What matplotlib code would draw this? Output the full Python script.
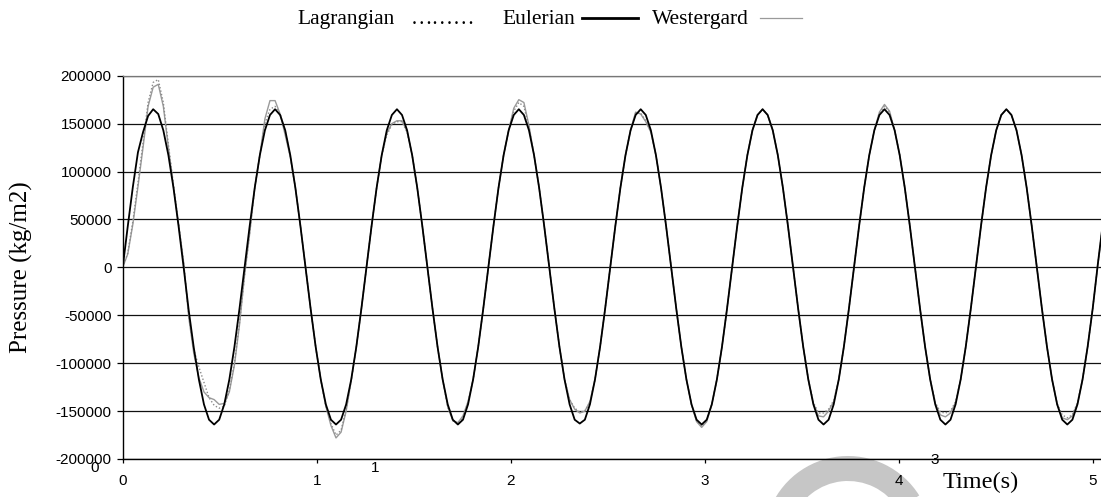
import numpy as np
import matplotlib
matplotlib.use("Agg")
from matplotlib import pyplot as plt
from matplotlib.lines import Line2D
from matplotlib.patches import Wedge

# pressure histories in 1000 kg/m2, sampled every dt seconds (24 samples per cycle, one cycle per row)
eulerian = [
    0, 43, 84, 120, 141, 158, 165, 160, 143, 117, 83, 43, 0, -45, -84, -117, -143, -159, -164, -159, -143, -117, -83, -43,
    0, 43, 83, 117, 143, 159, 165, 159, 143, 117, 83, 43, 0, -43, -83, -117, -143, -159, -164, -159, -143, -117, -83, -43,
    0, 43, 83, 117, 143, 159, 165, 159, 143, 117, 83, 43, 0, -43, -83, -117, -143, -159, -164, -159, -143, -117, -83, -43,
    0, 43, 83, 117, 143, 159, 165, 159, 143, 117, 83, 43, 0, -43, -83, -117, -143, -159, -163, -159, -143, -117, -83, -43,
    0, 43, 83, 117, 143, 159, 165, 159, 143, 117, 83, 43, 0, -43, -83, -117, -143, -159, -164, -159, -143, -117, -83, -43,
    0, 43, 83, 117, 143, 159, 165, 159, 143, 117, 83, 43, 0, -43, -83, -117, -143, -159, -164, -159, -143, -117, -83, -43,
    0, 43, 83, 117, 143, 159, 165, 159, 143, 117, 83, 43, 0, -43, -83, -117, -143, -159, -164, -159, -143, -117, -83, -43,
    0, 43, 83, 117, 143, 159, 165, 159, 143, 117, 83, 43, 0, -43, -83, -117, -143, -159, -164, -159, -143, -117, -83, -43,
    3, 46,
]

westergard = [
    0, 14, 45, 84, 125, 168, 188, 191, 168, 125, 84, 45, 5, -52, -90, -115, -130, -136, -138, -143, -142, -130, -102, -60,
    -8, 35, 83, 117, 155, 174, 174, 160, 138, 115, 83, 43, 0, -43, -83, -117, -145, -165, -178, -172, -150, -118, -83, -43,
    0, 43, 83, 117, 140, 150, 153, 153, 142, 117, 83, 43, 0, -43, -83, -117, -145, -160, -162, -155, -140, -117, -83, -43,
    0, 43, 83, 117, 143, 166, 175, 172, 148, 117, 83, 43, 0, -43, -83, -117, -138, -148, -152, -150, -140, -117, -83, -43,
    0, 43, 83, 117, 143, 162, 160, 152, 141, 117, 83, 43, 0, -43, -83, -117, -143, -161, -167, -161, -143, -117, -83, -43,
    0, 43, 83, 117, 143, 159, 165, 159, 143, 117, 83, 43, 0, -43, -83, -117, -142, -155, -156, -150, -140, -117, -83, -43,
    0, 43, 83, 117, 143, 162, 170, 163, 143, 117, 83, 43, 0, -43, -83, -117, -142, -154, -156, -152, -141, -117, -83, -43,
    0, 43, 83, 117, 143, 159, 165, 159, 143, 117, 83, 43, 0, -43, -83, -117, -143, -157, -159, -155, -142, -117, -83, -43,
    2, 44,
]

lagrangian = [
    0, 15, 48, 88, 130, 172, 193, 196, 172, 128, 86, 46, 5, -50, -86, -104, -120, -136, -144, -147, -145, -128, -100, -58,
    -8, 36, 83, 117, 150, 165, 168, 160, 142, 116, 83, 43, 0, -43, -83, -117, -145, -163, -175, -170, -148, -118, -83, -43,
    0, 43, 83, 117, 138, 149, 152, 152, 141, 117, 83, 43, 0, -43, -83, -117, -146, -160, -163, -157, -141, -117, -83, -43,
    0, 43, 83, 117, 143, 163, 172, 168, 146, 117, 83, 43, 0, -43, -83, -117, -138, -147, -151, -150, -141, -117, -83, -43,
    0, 43, 83, 117, 143, 161, 161, 153, 142, 117, 83, 43, 0, -43, -83, -117, -143, -160, -166, -160, -143, -117, -83, -43,
    0, 43, 83, 117, 143, 159, 165, 159, 143, 117, 83, 43, 0, -43, -83, -117, -141, -152, -152, -148, -139, -117, -83, -43,
    0, 43, 83, 117, 143, 161, 168, 162, 143, 117, 83, 43, 0, -43, -83, -117, -141, -151, -152, -150, -140, -117, -83, -43,
    0, 43, 83, 117, 143, 159, 165, 159, 143, 117, 83, 43, 0, -43, -83, -117, -142, -154, -157, -154, -141, -117, -83, -43,
    3, 45,
]

dt = 0.02617
xticks = [0, 1, 2, 3, 4, 5]
yticks = [-200000, -150000, -100000, -50000, 0, 50000, 100000, 150000, 200000]

time = np.arange(len(eulerian)) * dt
p_eul = np.array(eulerian) * 1000
p_wes = np.array(westergard) * 1000
p_lag = np.array(lagrangian) * 1000

W, H = 1101, 497
fig = plt.figure(figsize=(W / 100, H / 100), dpi=100)

# full-figure layer in pixel units for loose labels and the stamp
bg = fig.add_axes([0, 0, 1, 1], zorder=0)
bg.set_xlim(0, W)
bg.set_ylim(H, 0)
bg.axis("off")
bg.add_patch(Wedge((848, 540), 84, 200, 328, width=25, color="#c6c6c6", lw=0))

x0, x1, ytop, ybot = 122.7, 1101, 75.7, 459
ax = fig.add_axes([x0 / W, 1 - ybot / H, (x1 - x0) / W, (ybot - ytop) / H], zorder=1)
ax.patch.set_alpha(0)

ax.plot(time, p_wes, color="#9a9a9a", lw=1.0)
ax.plot(time, p_lag, color="#8a8a8a", lw=1.0, ls=(0, (1, 1.5)))
ax.plot(time, p_eul, color="black", lw=1.3)

ax.set_xlim(0, (x1 - x0) / 194.06)
ax.set_ylim(-200000, 200000)
ax.set_xticks(xticks)
ax.set_xticklabels([str(v) for v in xticks])
ax.set_yticks(yticks)
ax.set_yticklabels([str(v) for v in yticks])
ax.yaxis.grid(True, color="#111111", lw=0.9)
ax.set_axisbelow(True)

for lab in ax.get_xticklabels() + ax.get_yticklabels():
    lab.set_fontfamily("Liberation Sans")
    lab.set_fontsize(11)
ax.tick_params(axis="y", length=4, width=0.9, pad=4)
ax.tick_params(axis="x", length=3, width=0.9, pad=8)

ax.spines["right"].set_visible(False)
ax.spines["top"].set_color("#777777")
ax.spines["top"].set_linewidth(0.9)
ax.spines["left"].set_linewidth(1.0)
ax.spines["bottom"].set_linewidth(1.0)

serif = "Liberation Serif"
fig.text(21 / W, 1 - 267 / H, "Pressure (kg/m2)", rotation=90, ha="center", va="center",
         family=serif, fontsize=18)
bg.text(981, 488, "Time(s)", ha="center", va="baseline", family=serif, fontsize=17.5)

# stray axis labels
for tx, ty, s in [(95, 468, "0"), (375, 468, "1"), (935, 460, "3")]:
    bg.text(tx, ty, s, ha="center", va="center", family="Liberation Sans", fontsize=11)

# legend row
ly = 24
bg.text(297, ly, "Lagrangian", ha="left", va="baseline", family=serif, fontsize=15.5)
bg.text(411, ly, "\u2026\u2026\u2026", ha="left", va="baseline", family=serif, fontsize=15.5)
bg.text(502, ly, "Eulerian", ha="left", va="baseline", family=serif, fontsize=15.5)
bg.add_line(Line2D([582, 638], [ly - 6, ly - 6], color="black", lw=2.0))
bg.text(652, ly, "Westergard", ha="left", va="baseline", family=serif, fontsize=15.5)
bg.add_line(Line2D([760, 802], [ly - 6, ly - 6], color="#9a9a9a", lw=0.9))

fig.savefig("out.png", dpi=100)
